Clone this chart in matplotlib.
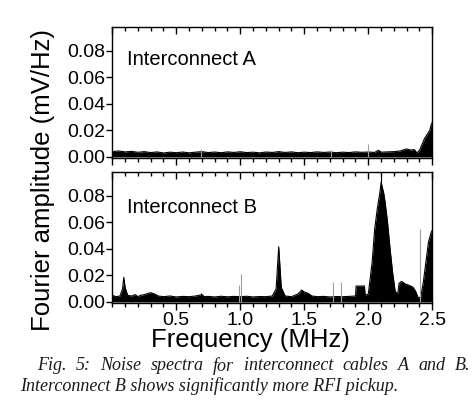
import numpy as np
import matplotlib
matplotlib.use("Agg")
import matplotlib.pyplot as plt
from matplotlib.ticker import MultipleLocator, FormatStrFormatter

# spectrum envelopes (MHz, mV/Hz)
freq_a = [0.00, 0.05, 0.10, 0.15, 0.20, 0.25, 0.30, 0.35, 0.40, 0.45,
          0.50, 0.55, 0.60, 0.65, 0.70, 0.75, 0.80, 0.85, 0.90, 0.95,
          1.00, 1.05, 1.10, 1.15, 1.20, 1.25, 1.30, 1.35, 1.40, 1.45,
          1.50, 1.55, 1.60, 1.65, 1.70, 1.75, 1.80, 1.85, 1.90, 1.95,
          2.00, 2.05, 2.08, 2.10, 2.15, 2.20, 2.25, 2.28, 2.30, 2.33,
          2.36, 2.38, 2.40, 2.42, 2.44, 2.46, 2.48, 2.49, 2.50]
amp_a = [0.0040, 0.0045, 0.0038, 0.0042, 0.0035, 0.0040, 0.0033, 0.0038, 0.0030, 0.0036,
         0.0032, 0.0037, 0.0031, 0.0036, 0.0040, 0.0033, 0.0037, 0.0032, 0.0038, 0.0034,
         0.0039, 0.0033, 0.0036, 0.0031, 0.0037, 0.0034, 0.0040, 0.0034, 0.0038, 0.0032,
         0.0036, 0.0033, 0.0038, 0.0034, 0.0037, 0.0032, 0.0036, 0.0033, 0.0038, 0.0035,
         0.0037, 0.0034, 0.0050, 0.0036, 0.0038, 0.0040, 0.0045, 0.0055, 0.0060, 0.0052,
         0.0055, 0.0030, 0.0050, 0.0095, 0.0140, 0.0170, 0.0200, 0.0240, 0.0260]

freq_b = [0.00, 0.03, 0.06, 0.08, 0.09, 0.10, 0.12, 0.15, 0.18, 0.20,
          0.22, 0.25, 0.28, 0.30, 0.33, 0.36, 0.40, 0.45, 0.50, 0.55,
          0.60, 0.65, 0.70, 0.72, 0.75, 0.80, 0.85, 0.90, 0.95, 1.00,
          1.05, 1.10, 1.15, 1.20, 1.25, 1.28, 1.30, 1.32, 1.35, 1.40,
          1.45, 1.48, 1.50, 1.53, 1.56, 1.60, 1.65, 1.70, 1.75, 1.80,
          1.85, 1.90, 1.905, 1.97, 1.975, 2.00, 2.03, 2.05, 2.07, 2.09,
          2.10, 2.12, 2.13, 2.15, 2.17, 2.19, 2.21, 2.23, 2.24, 2.26,
          2.29, 2.32, 2.35, 2.37, 2.39, 2.41, 2.43, 2.45, 2.47, 2.49, 2.50]
amp_b = [0.0050, 0.0040, 0.0045, 0.0100, 0.0185, 0.0110, 0.0050, 0.0045, 0.0055, 0.0040,
         0.0050, 0.0055, 0.0065, 0.0070, 0.0060, 0.0045, 0.0040, 0.0045, 0.0038, 0.0042,
         0.0040, 0.0045, 0.0055, 0.0040, 0.0042, 0.0038, 0.0043, 0.0039, 0.0042, 0.0040,
         0.0043, 0.0038, 0.0041, 0.0040, 0.0045, 0.0100, 0.0415, 0.0110, 0.0045, 0.0040,
         0.0060, 0.0090, 0.0075, 0.0065, 0.0045, 0.0040, 0.0042, 0.0038, 0.0041, 0.0040,
         0.0042, 0.0045, 0.0120, 0.0120, 0.0050, 0.0060, 0.0300, 0.0550, 0.0700, 0.0820,
         0.0900, 0.0820, 0.0760, 0.0600, 0.0400, 0.0220, 0.0080, 0.0060, 0.0140, 0.0155,
         0.0135, 0.0125, 0.0110, 0.0080, 0.0030, 0.0040, 0.0150, 0.0300, 0.0450, 0.0520, 0.0540]

# narrow spikes (frequency, height)
spike_a_f = [0.69, 1.71, 2.00]
spike_a_h = [0.006, 0.005, 0.010]
spike_b_grey_f = [0.99, 1.004, 1.726, 1.79, 2.403]
spike_b_grey_h = [0.013, 0.021, 0.015, 0.015, 0.055]
spike_b_black_f = [0.69, 2.10]
spike_b_black_h = [0.007, 0.096]

caption_1 = 'Fig. 5: Noise spectra for interconnect cables A and B.'
caption_2 = 'Interconnect B shows significantly more RFI pickup.'

plt.rcParams['font.family'] = ['Liberation Sans', 'DejaVu Sans']

fig = plt.figure(figsize=(4.75, 4.09), dpi=100)
ax1 = fig.add_axes([0.2364, 0.6130, 0.6737, 0.3218])
ax2 = fig.add_axes([0.2364, 0.2584, 0.6737, 0.3218])


def style(ax, show_labels):
    ax.set_xlim(0, 2.5)
    ax.set_ylim(-0.001, 0.098)
    ax.xaxis.set_major_locator(MultipleLocator(0.5))
    ax.xaxis.set_minor_locator(MultipleLocator(0.1))
    ax.yaxis.set_major_locator(MultipleLocator(0.02))
    ax.yaxis.set_major_formatter(FormatStrFormatter('%.2f'))
    ax.tick_params(axis='x', which='both', direction='out', top=False,
                   labelbottom=show_labels, labelsize=14, pad=1)
    ax.tick_params(axis='x', which='major', length=5, width=1)
    ax.tick_params(axis='x', which='minor', length=3, width=1)
    ax.tick_params(axis='y', which='both', direction='out', right=False,
                   labelsize=14, length=4, width=1, pad=1)
    # inward ticks along the top edge
    sec = ax.secondary_xaxis('top')
    sec.xaxis.set_major_locator(MultipleLocator(0.5))
    sec.xaxis.set_minor_locator(MultipleLocator(0.1))
    sec.tick_params(axis='x', which='both', direction='in', labeltop=False, width=1)
    sec.tick_params(axis='x', which='major', length=5)
    sec.tick_params(axis='x', which='minor', length=3)
    sec.spines['top'].set_visible(False)
    for s in ax.spines.values():
        s.set_linewidth(1)
    if show_labels:
        ax.set_xticks([0.5, 1.0, 1.5, 2.0, 2.5])
        ax.set_xticklabels(['0.5', '1.0', '1.5', '2.0', '2.5'])


ax1.fill_between(freq_a, 0, amp_a, color='black', lw=0)
ax1.plot(freq_a, amp_a, color='black', lw=0.8)
ax1.vlines(spike_a_f, 0, spike_a_h, color='#a0a0a0', lw=0.8)
ax1.text(0.046, 0.75, 'Interconnect A', transform=ax1.transAxes,
         fontsize=14.5, va='center', ha='left')
style(ax1, False)

ax2.fill_between(freq_b, 0, amp_b, color='black', lw=0)
ax2.plot(freq_b, amp_b, color='black', lw=0.8)
ax2.vlines(spike_b_grey_f, 0, spike_b_grey_h, color='#a0a0a0', lw=0.8)
ax2.vlines(spike_b_black_f, 0, spike_b_black_h, color='black', lw=0.8)
ax2.text(0.046, 0.73, 'Interconnect B', transform=ax2.transAxes,
         fontsize=14.5, va='center', ha='left')
style(ax2, True)

fig.text(0.09, 0.56, 'Fourier amplitude (mV/Hz)', rotation=90,
         fontsize=18.5, ha='center', va='center')
fig.text(0.527, 0.169, 'Frequency (MHz)', fontsize=18.5, ha='center', va='center')

# caption, first line justified between two pixel positions
cap_kw = dict(family=['Liberation Serif', 'DejaVu Serif'], style='italic',
              fontsize=13, va='center', color='#1a1a1a')
renderer = fig.canvas.get_renderer()
words = caption_1.split(' ')
y1 = 1 - 366 / 409
left, right = 37.0, 470.0
texts = [fig.text(0, y1, w, ha='left', **cap_kw) for w in words]
widths = [t.get_window_extent(renderer).width for t in texts]
gap = (right - left - sum(widths)) / (len(words) - 1)
x = left
for t, w in zip(texts, widths):
    t.set_x(x / 475)
    x += w + gap

fig.text(20 / 475, 1 - 386 / 409, caption_2, ha='left', **cap_kw)

fig.savefig('out.png', dpi=100)
